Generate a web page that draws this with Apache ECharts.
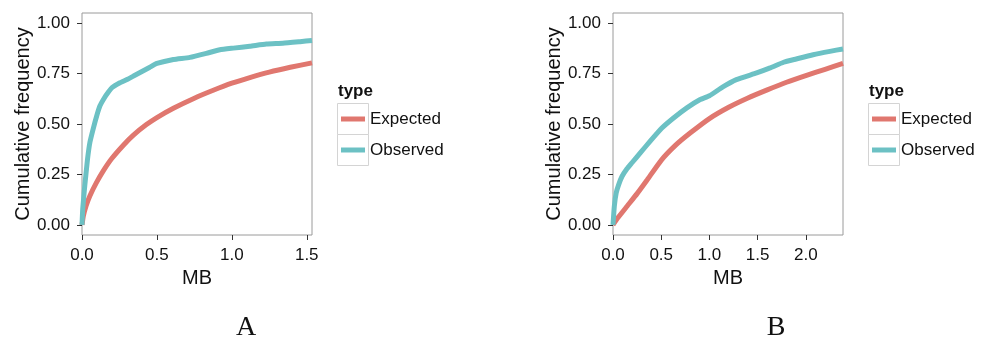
<!DOCTYPE html>
<html>
<head>
<meta charset="utf-8">
<script src="https://cdn.jsdelivr.net/npm/echarts@6/dist/echarts.min.js"></script>
<style>
  html, body { margin: 0; padding: 0; background: #fff; }
  #chart { width: 981px; height: 341px; }
</style>
</head>
<body>
<div id="chart"></div>
<script>
// Panel A: cumulative frequency vs MB
const xA_obs = [0, 0.005, 0.018, 0.036, 0.053, 0.076, 0.098, 0.12, 0.15, 0.175, 0.2, 0.25, 0.3, 0.35, 0.4, 0.45, 0.5, 0.61, 0.72, 0.83, 0.92, 1.01, 1.12, 1.23, 1.34, 1.455, 1.535];
const yA_obs = [0, 0.08, 0.19, 0.32, 0.41, 0.48, 0.54, 0.59, 0.63, 0.657, 0.68, 0.703, 0.72, 0.74, 0.76, 0.78, 0.80, 0.82, 0.83, 0.85, 0.868, 0.876, 0.885, 0.896, 0.90, 0.908, 0.914];
const xA_exp = [0, 0.009, 0.027, 0.053, 0.098, 0.142, 0.2, 0.276, 0.343, 0.43, 0.5, 0.61, 0.75, 0.876, 1.0, 1.12, 1.25, 1.39, 1.535];
const yA_exp = [0, 0.044, 0.094, 0.145, 0.212, 0.268, 0.330, 0.395, 0.445, 0.497, 0.532, 0.578, 0.628, 0.667, 0.702, 0.730, 0.757, 0.781, 0.803];

// Panel B
const xB_obs = [0, 0.014, 0.034, 0.059, 0.093, 0.145, 0.197, 0.283, 0.386, 0.507, 0.628, 0.766, 0.9, 1.0, 1.14, 1.28, 1.49, 1.63, 1.77, 1.9, 2.076, 2.25, 2.386];
const yB_obs = [0, 0.094, 0.16, 0.20, 0.24, 0.278, 0.308, 0.357, 0.415, 0.48, 0.53, 0.58, 0.62, 0.64, 0.684, 0.72, 0.753, 0.778, 0.806, 0.822, 0.843, 0.86, 0.872];
const xB_exp = [0, 0.05, 0.15, 0.25, 0.35, 0.5, 0.65, 0.8, 1.0, 1.2, 1.4, 1.6, 1.8, 2.0, 2.2, 2.386];
const yB_exp = [0, 0.035, 0.095, 0.155, 0.22, 0.32, 0.395, 0.455, 0.527, 0.583, 0.629, 0.669, 0.707, 0.740, 0.771, 0.800];

const typeNames = ['Expected', 'Observed'];
const xTicksA = [0, 0.5, 1.0, 1.5];
const xTicksB = [0, 0.5, 1.0, 1.5, 2.0];
const yTicks = [0, 0.25, 0.5, 0.75, 1.0];
const panelLabels = ['A', 'B'];

const COLORS = { Expected: '#E0776F', Observed: '#6CC1C4' };
const FONT = 'Liberation Sans, Arial, Helvetica, sans-serif';
const frameGray = '#9a9a9a';
const tickGray = '#333333';

const zip = (xs, ys) => xs.map((x, i) => [x, ys[i]]);

const panels = [
  { left: 82, xMax: 1.535, xTicks: xTicksA, legendX: 337, label: panelLabels[0], labelX: 246,
    data: { Expected: zip(xA_exp, yA_exp), Observed: zip(xA_obs, yA_obs) } },
  { left: 613, xMax: 2.386, xTicks: xTicksB, legendX: 868, label: panelLabels[1], labelX: 776,
    data: { Expected: zip(xB_exp, yB_exp), Observed: zip(xB_obs, yB_obs) } }
];

const PW = 230, PT = 13, PH = 222;

const grid = [], xAxis = [], yAxis = [], series = [], legend = [], graphic = [];

panels.forEach((p, i) => {
  grid.push({ left: p.left, top: PT, width: PW, height: PH, show: true,
    borderColor: frameGray, borderWidth: 1, backgroundColor: '#fff' });
  xAxis.push({
    type: 'value', gridIndex: i, min: 0, max: p.xMax,
    name: 'MB', nameLocation: 'middle', nameGap: 32,
    nameTextStyle: { fontFamily: FONT, fontSize: 20, color: '#111' },
    axisLine: { show: false, onZero: false },
    axisTick: { show: true, length: 5, customValues: p.xTicks, lineStyle: { color: tickGray, width: 1 } },
    axisLabel: { customValues: p.xTicks, formatter: v => v.toFixed(1), margin: 12,
      fontFamily: FONT, fontSize: 17, color: '#111' },
    splitLine: { show: false }
  });
  yAxis.push({
    type: 'value', gridIndex: i, min: -0.05, max: 1.05,
    name: 'Cumulative frequency', nameLocation: 'middle', nameGap: 48, nameRotate: 90,
    nameTextStyle: { fontFamily: FONT, fontSize: 20, color: '#111' },
    axisLine: { show: false },
    axisTick: { show: true, length: 5, customValues: yTicks, lineStyle: { color: tickGray, width: 1 } },
    axisLabel: { customValues: yTicks, formatter: v => v.toFixed(2), margin: 12,
      fontFamily: FONT, fontSize: 17, color: '#111' },
    splitLine: { show: false }
  });
  typeNames.forEach(name => {
    series.push({
      type: 'line', name, xAxisIndex: i, yAxisIndex: i,
      data: p.data[name], showSymbol: false, smooth: 0.15,
      lineStyle: { color: COLORS[name], width: 5, join: 'round' }, itemStyle: { color: COLORS[name] },
      z: name === 'Observed' ? 3 : 2
    });
  });
  legend.push({
    data: typeNames, orient: 'vertical', left: p.legendX + 4, top: 103.5,
    padding: 0, itemGap: 0, itemWidth: 24, itemHeight: 5, icon: 'rect',
    selectedMode: false,
    textStyle: { fontFamily: FONT, fontSize: 17, color: '#111', lineHeight: 31, padding: [0, 0, 0, 0] }
  });
  // legend title and key boxes
  graphic.push({
    type: 'text', left: p.legendX + 1, top: 83,
    style: { text: 'type', font: 'bold 17px ' + FONT, fill: '#111' }
  });
  [0, 1].forEach(k => {
    graphic.push({
      type: 'rect', z: -1,
      shape: { x: p.legendX + 0.5, y: 103.5 + k * 31, width: 31, height: 31 },
      style: { fill: '#fff', stroke: '#d4d4d4', lineWidth: 1 }
    });
  });
  graphic.push({
    type: 'text', x: p.labelX, y: 328,
    style: { text: p.label, font: '28px "Liberation Serif", "Times New Roman", serif',
      fill: '#111', align: 'center', verticalAlign: 'middle' }
  });
});

const chart = echarts.init(document.getElementById('chart'), null, { renderer: 'canvas' });
chart.setOption({
  animation: false,
  backgroundColor: '#fff',
  grid, xAxis, yAxis, series, legend, graphic
});
</script>
</body>
</html>
